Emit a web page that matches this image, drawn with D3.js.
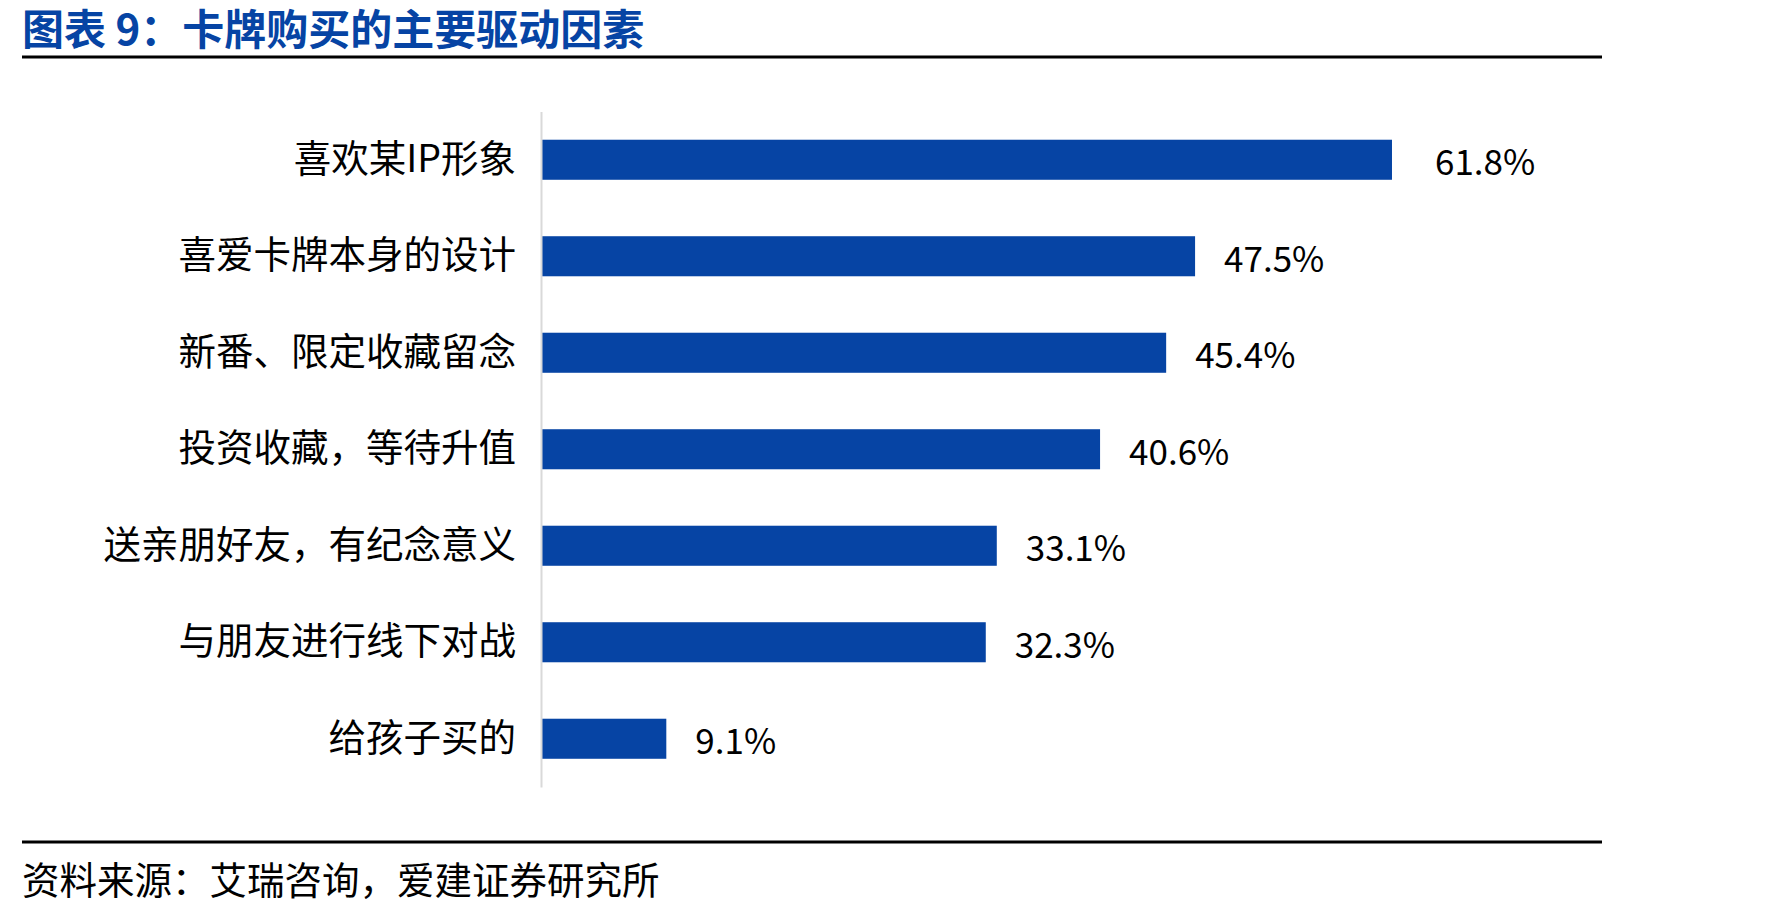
<!DOCTYPE html>
<html>
<head>
<meta charset="utf-8">
<script src="https://cdn.jsdelivr.net/npm/d3@7"></script>
<style>
  body { margin: 0; background: #fff; }
  text { font-family: "Noto Sans CJK SC", "Noto Sans", sans-serif; }
</style>
</head>
<body>
<div class="canvas"></div>
<script>

// data
var categories = ['喜欢某IP形象','喜爱卡牌本身的设计','新番、限定收藏留念','投资收藏，等待升值','送亲朋好友，有纪念意义','与朋友进行线下对战','给孩子买的'];
var values = [61.8, 47.5, 45.4, 40.6, 33.1, 32.3, 9.1];
var title = '图表 9：卡牌购买的主要驱动因素';
var source = '资料来源：艾瑞咨询，爱建证券研究所';

var width = 1784, height = 910;
var blue = '#0644a4';

var svg = d3.select('.canvas')
    .append('svg')
    .attr('width', width)
    .attr('height', height);

// title + rules
svg.append('text')
    .attr('x', 22)
    .attr('y', 26)
    .attr('dominant-baseline', 'central')
    .attr('font-size', '42px')
    .attr('font-weight', 'bold')
    .attr('fill', blue)
    .text(title);

svg.append('line')
    .attr('x1', 22).attr('x2', 1602)
    .attr('y1', 57).attr('y2', 57)
    .attr('stroke', '#000')
    .attr('stroke-width', 3);

svg.append('line')
    .attr('x1', 22).attr('x2', 1602)
    .attr('y1', 842).attr('y2', 842)
    .attr('stroke', '#000')
    .attr('stroke-width', 3);

svg.append('text')
    .attr('x', 22)
    .attr('y', 877)
    .attr('dominant-baseline', 'central')
    .attr('font-size', '37.5px')
    .attr('fill', '#000')
    .text(source);

// scales
var y = d3.scaleBand()
    .domain(categories)
    .range([111.5, 787])
    .paddingInner(0.585)
    .paddingOuter(0.2925);

var x = d3.scaleLinear()
    .domain([0, 70])
    .range([541, 541 + 70 * 13.77]);

var data = categories.map(function(c, i){ return {name: c, value: values[i]}; });

// bars
svg.selectAll('.bar')
    .data(data)
    .enter().append('rect')
    .attr('class', 'bar')
    .attr('x', x(0))
    .attr('y', function(d){ return y(d.name); })
    .attr('width', function(d){ return x(d.value) - x(0); })
    .attr('height', y.bandwidth())
    .attr('fill', blue);

// value labels
var maxV = d3.max(values);
svg.selectAll('.val')
    .data(data)
    .enter().append('text')
    .attr('class', 'val')
    .attr('x', function(d){ return x(d.value) + (d.value === maxV ? 43 : 29); })
    .attr('y', function(d){ return y(d.name) + y.bandwidth() / 2; })
    .attr('dominant-baseline', 'central')
    .attr('font-size', '35px')
    .attr('fill', '#000')
    .text(function(d){ return d.value.toFixed(1) + '%'; });

// category axis
var axis = svg.append('g')
    .attr('transform', 'translate(' + x(0) + ',0)')
    .call(d3.axisLeft(y).tickSize(0).tickPadding(25));

axis.select('.domain')
    .attr('stroke', '#d9d9d9')
    .attr('stroke-width', 2);

axis.selectAll('text')
    .attr('font-family', '"Noto Sans CJK SC", sans-serif')
    .attr('font-size', '37.5px')
    .attr('fill', '#000');

</script>
</body>
</html>
